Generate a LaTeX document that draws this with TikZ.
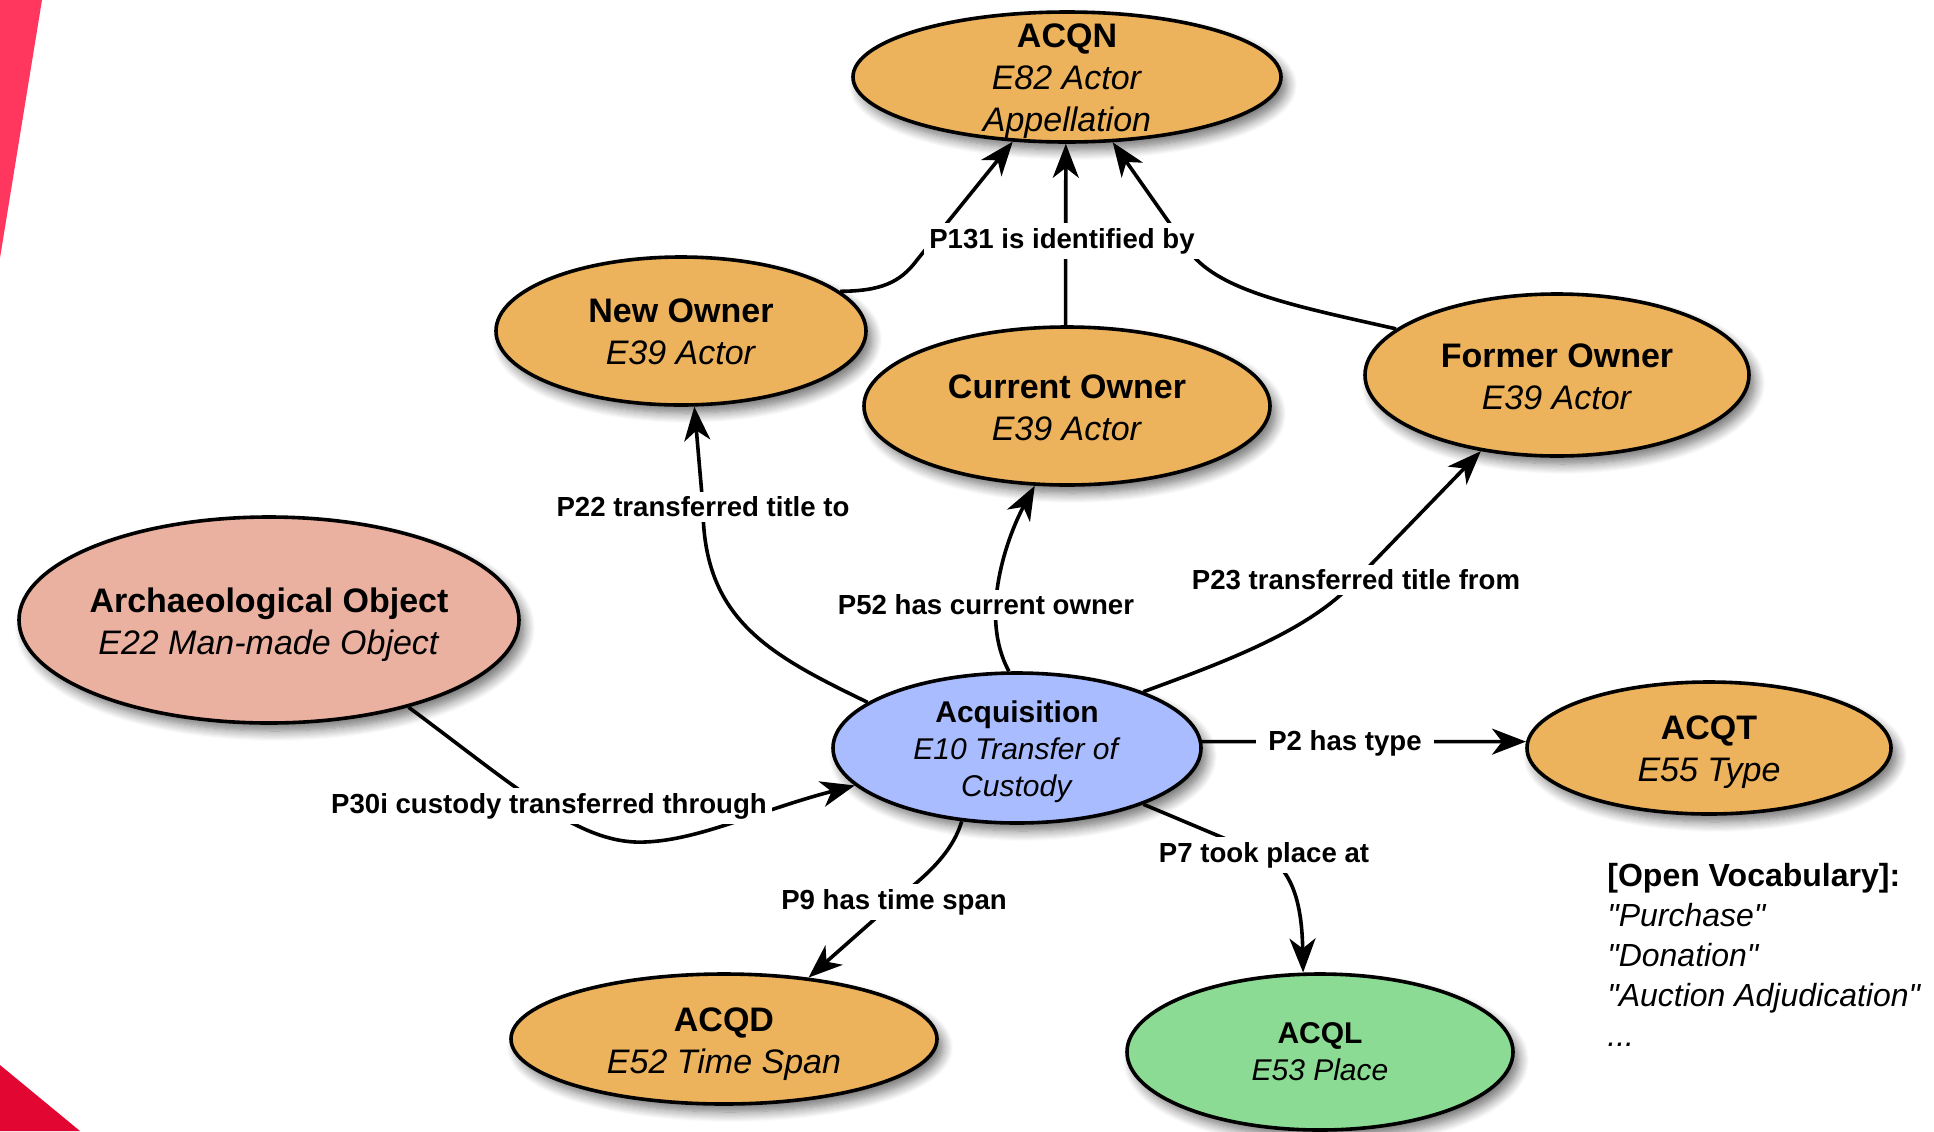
\documentclass[tikz,border=0pt]{standalone}
\usepackage{fontspec}
\setmainfont{Liberation Sans}
\usetikzlibrary{shapes.geometric,arrows.meta,shadows.blur}
\definecolor{orng}{RGB}{236,178,92}
\definecolor{pinkish}{RGB}{234,176,160}
\definecolor{bluish}{RGB}{169,188,255}
\definecolor{greenish}{RGB}{139,219,148}
\definecolor{redtop}{RGB}{255,55,95}
\definecolor{redbot}{RGB}{226,6,50}
\newcommand\tfix[1]{\rule{0pt}{#1}}
\newcommand\qq[1]{\textquotedbl#1\textquotedbl}
\pgfdeclarelayer{labels}
\pgfsetlayers{main,labels}
\begin{document}
\begin{tikzpicture}[x=0.5pt,y=-0.5pt,
  ent/.style={ellipse, draw=black, line width=1.8pt, fill=orng, align=center,
    inner xsep=-8pt, inner ysep=-20pt,
    font=\fontsize{17}{21}\selectfont,
    blur shadow={shadow xshift=3pt, shadow yshift=-4pt, shadow blur radius=5pt, shadow blur steps=10, shadow opacity=55}},
  smallent/.style={font=\fontsize{15}{18.5}\selectfont},
  lbl/.style={fill=white, inner sep=2.5pt, font=\bfseries\fontsize{13.8}{16}\selectfont},
  conn/.style={line width=1.8pt, -{Stealth[length=17pt,width=13pt,inset=5pt]}},
]
\useasboundingbox (0,0) rectangle (1934,1131);
\fill[redtop] (0,0) -- (42,0) -- (0,258) -- cycle;
\fill[redbot] (0,1065) -- (80,1131) -- (0,1131) -- cycle;

\node[ent, minimum width=214pt, minimum height=65pt] (acqn) at (1067,77)
  {\tfix{16.5pt}\textbf{ACQN}\\\textit{E82 Actor}\\\textit{Appellation}};
\node[ent, minimum width=185pt, minimum height=74pt] (newowner) at (681,331)
  {\tfix{13pt}\textbf{New Owner}\\\textit{E39 Actor}};
\node[ent, minimum width=203pt, minimum height=79pt] (cur) at (1067,406)
  {\tfix{14pt}\textbf{Current Owner}\\\textit{E39 Actor}};
\node[ent, minimum width=192pt, minimum height=81pt] (former) at (1557,375)
  {\tfix{14pt}\textbf{Former Owner}\\\textit{E39 Actor}};
\node[ent, fill=pinkish, minimum width=250pt, minimum height=103pt] (arch) at (269,620)
  {\tfix{17.5pt}\textbf{Archaeological Object}\\\textit{E22 Man-made Object}};
\node[ent, smallent, fill=bluish, minimum width=184pt, minimum height=75pt] (acq) at (1017,748)
  {\tfix{15pt}\textbf{Acquisition}\\\textit{E10 Transfer of}\\\textit{Custody}};
\node[ent, minimum width=182pt, minimum height=66pt] (acqt) at (1709,748)
  {\tfix{16.5pt}\textbf{ACQT}\\\textit{E55 Type}};
\node[ent, minimum width=213pt, minimum height=65pt] (acqd) at (724,1039)
  {\tfix{17pt}\textbf{ACQD}\\\textit{E52 Time Span}};
\node[ent, smallent, fill=greenish, minimum width=193pt, minimum height=78pt] (acql) at (1320,1052)
  {\textbf{ACQL}\\\textit{E53 Place}};

\node[anchor=north west, inner sep=0pt, align=left, font=\fontsize{16}{20}\selectfont] (vocab) at (1607,863)
  {\textbf{[Open Vocabulary]:}\\\textit{\qq{Purchase}}\\\textit{\qq{Donation}}\\\textit{\qq{Auction Adjudication}}\\\textit{...}};

\begin{pgfonlayer}{labels}
\node[lbl] (p131) at (1062,241) {P131 is identified by};
\node[lbl] (p22) at (703,507) {P22 transferred title to};
\node[lbl] (p52) at (986,605) {P52 has current owner};
\node[lbl] (p23) at (1356,580) {P23 transferred title from};
\node[lbl, inner xsep=6pt] (p2) at (1345,743) {P2 has type};
\node[lbl] (p30) at (549,806) {P30i custody transferred through};
\node[lbl] (p7) at (1264,855) {P7 took place at};
\node[lbl] (p9) at (894,902) {P9 has time span};
\end{pgfonlayer}

\draw[conn] (newowner.14) .. controls (880,291) and (900,283) .. (917,260) -- (acqn.-130);
\draw[conn] (cur.91) -- (acqn.-91);
\draw[conn] (former.164) .. controls (1290,305) and (1215,290) .. (1187,248) -- (acqn.-55);
\draw[conn] (acq.163) .. controls (770,655) and (703,620) .. (p22.center) -- (newowner.-80);
\draw[conn] (acq.96) .. controls (978,615) and (1008,535) .. (cur.-112);
\draw[conn] (acq.24) .. controls (1230,660) and (1310,630) .. (p23.center) -- (former.-135);
\draw[conn] (acq.2) -- (acqt.178);
\draw[conn] (acq.-24) -- (p7.center) .. controls (1295,870) and (1302,910) .. (acql.102);
\draw[conn] (acq.-127) .. controls (950,860) and (915,883) .. (p9.center) -- (acqd.36);
\draw[conn] (arch.-32) .. controls (520,790) and (580,845) .. (645,842) .. controls (700,840) and (760,810) .. (acq.193);
\end{tikzpicture}
\end{document}
